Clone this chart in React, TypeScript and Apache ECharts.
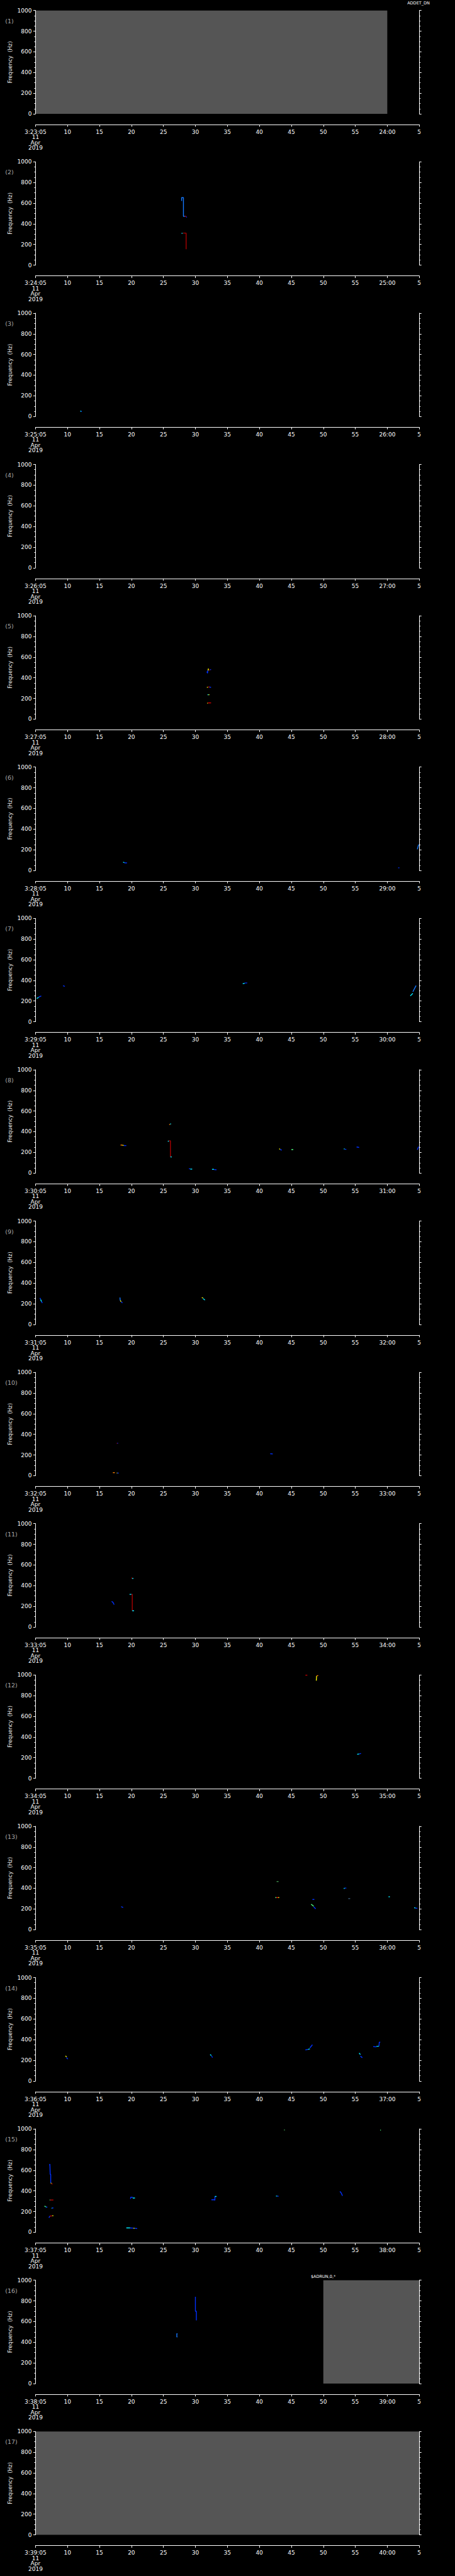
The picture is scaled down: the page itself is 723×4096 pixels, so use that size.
import React, { useEffect, useRef } from 'react';
import * as echarts from 'echarts';

// ---------- data ----------
const MINUTES = [23, 24, 25, 26, 27, 28, 29, 30, 31, 32, 33, 34, 35, 36, 37, 38, 39];
const DATE_LINES = ['11', 'Apr', '2019'];
const Y_MAX = 1000;
const X_MAX = 60;
// [panel, fromSecond, toSecond]
const GRAY_FILLS = [[1, 0, 55], [16, 45, 60], [17, 0, 60]];

const B = '#0030ff', LB = '#1478ff', C = '#00e8ff', G = '#50ff80', Y = '#f0f000',
  O = '#ff8000', R = '#d00000', DR = '#a80000', DG = '#3c8a4a', GB = '#406080';

// traces: [color, [[t, Hz], ...]]
const p1: any[] = [];
const p2 = [
  [LB, [[22.85, 622], [22.85, 653], [23.13, 653], [23.13, 472], [23.35, 472]]],
  [R, [[23.35, 472], [23.55, 472]]],
  [B, [[23.55, 470], [23.65, 462]]],
  [C, [[22.85, 306], [22.98, 310]]],
  [DR, [[23.05, 310], [23.55, 310], [23.55, 155]]],
];
const p3 = [[C, [[7.0, 52], [7.15, 50]]], [B, [[7.15, 50], [7.25, 48]]]];
const p4: any[] = [];
const p5 = [
  [B, [[26.8, 460], [26.9, 444], [26.95, 472]]],
  [Y, [[27.0, 470], [27.0, 485], [27.1, 485]]],
  [R, [[27.15, 475], [27.3, 475]]],
  [B, [[27.3, 478], [27.45, 480]]],
  [Y, [[26.8, 308], [26.95, 308]]],
  [R, [[27.0, 310], [27.2, 312]]],
  [B, [[27.2, 310], [27.45, 306]]],
  [C, [[26.9, 236], [27.05, 236]]],
  [Y, [[27.05, 236], [27.2, 236]]],
  [Y, [[26.85, 153], [26.95, 155]]],
  [R, [[26.95, 157], [27.45, 157]]],
];
const p6 = [
  [C, [[13.7, 80], [13.9, 75]]],
  [B, [[13.9, 73], [14.3, 73]]],
  [B, [[56.7, 25], [56.9, 25]]],
  [LB, [[59.7, 205], [59.9, 250]]],
];
const p7 = [
  [C, [[0.2, 225], [0.5, 235]]],
  [B, [[0.5, 238], [0.9, 250]]],
  [B, [[4.3, 348], [4.6, 342]]],
  [C, [[32.4, 368], [32.7, 372]]],
  [B, [[32.7, 374], [33.1, 376]]],
  [C, [[58.6, 250], [59.0, 275]]],
  [LB, [[59.0, 290], [59.5, 350]]],
];
const p8 = [
  [O, [[13.3, 271], [13.6, 271]]],
  [Y, [[13.6, 269], [13.8, 267]]],
  [B, [[13.8, 266], [14.2, 265]]],
  [O, [[20.9, 470], [21.05, 470]]],
  [C, [[21.05, 475], [21.2, 475]]],
  [C, [[20.7, 305], [20.85, 312]]],
  [DR, [[20.85, 312], [21.1, 312], [21.1, 156]]],
  [C, [[21.1, 156], [21.3, 156]]],
  [B, [[24.0, 42], [24.2, 40]]],
  [C, [[24.2, 38], [24.5, 38]]],
  [C, [[27.6, 36], [27.9, 36]]],
  [B, [[27.9, 34], [28.3, 32]]],
  [Y, [[38.1, 235], [38.25, 230]]],
  [B, [[38.25, 228], [38.5, 222]]],
  [G, [[40.0, 227], [40.3, 227]]],
  [C, [[48.2, 233], [48.35, 233]]],
  [B, [[48.35, 230], [48.6, 229]]],
  [B, [[50.2, 252], [50.6, 248]]],
  [B, [[59.7, 225], [59.9, 255]]],
];
const p9 = [
  [B, [[0.7, 256], [0.8, 240]]],
  [C, [[0.8, 240], [0.95, 220]]],
  [B, [[0.95, 220], [1.07, 207]]],
  [LB, [[13.2, 260], [13.25, 230]]],
  [Y, [[13.25, 230], [13.4, 220]]],
  [B, [[13.4, 218], [13.6, 207]]],
  [Y, [[26.0, 258], [26.2, 256]]],
  [C, [[26.2, 250], [26.5, 235]]],
];
const p10 = [
  [R, [[12.7, 312], [12.8, 312]]],
  [B, [[12.8, 314], [12.9, 314]]],
  [O, [[12.1, 29], [12.4, 29]]],
  [Y, [[12.7, 25], [12.8, 25]]],
  [B, [[12.8, 25], [13.0, 25]]],
  [B, [[36.7, 212], [37.1, 210]]],
];
const p11 = [
  [B, [[11.9, 247], [12.1, 240], [12.3, 216]]],
  [C, [[14.7, 316], [15.0, 316]]],
  [DR, [[15.0, 316], [15.13, 316], [15.13, 157]]],
  [C, [[15.13, 157], [15.4, 157]]],
  [R, [[15.0, 473], [15.13, 473]]],
  [C, [[15.13, 470], [15.3, 470]]],
];
const p12 = [
  [R, [[42.2, 998], [42.5, 998]]],
  [Y, [[43.9, 945], [43.95, 990]]],
  [O, [[43.95, 990], [44.2, 995]]],
  [C, [[50.3, 232], [50.6, 236]]],
  [B, [[50.6, 236], [50.9, 240]]],
];
const p13 = [
  [B, [[13.4, 222], [13.7, 214]]],
  [DG, [[37.7, 465], [38.0, 465]]],
  [G, [[37.5, 310], [37.65, 310]]],
  [R, [[37.65, 310], [37.95, 310]]],
  [Y, [[37.95, 310], [38.1, 310]]],
  [B, [[43.3, 292], [43.6, 292]]],
  [G, [[43.1, 246], [43.5, 225]]],
  [B, [[43.5, 220], [43.8, 201]]],
  [C, [[48.2, 398], [48.35, 400]]],
  [B, [[48.35, 402], [48.6, 402]]],
  [GB, [[48.9, 300], [49.2, 300]]],
  [C, [[55.2, 318], [55.4, 318]]],
  [C, [[59.2, 212], [59.4, 210]]],
  [B, [[59.4, 208], [59.7, 206]]],
];
const p14 = [
  [Y, [[4.7, 243], [4.85, 232]]],
  [B, [[4.85, 225], [5.06, 211]]],
  [C, [[27.3, 256], [27.5, 245]]],
  [B, [[27.5, 240], [27.7, 227]]],
  [B, [[42.2, 300], [42.6, 305]]],
  [C, [[42.6, 305], [42.9, 310]]],
  [B, [[42.9, 320], [43.3, 350]]],
  [C, [[50.6, 270], [50.8, 255]]],
  [B, [[50.8, 240], [51.1, 225]]],
  [B, [[52.8, 332], [53.3, 330]]],
  [C, [[53.3, 334], [53.7, 336]]],
  [B, [[53.7, 336], [53.75, 375], [53.9, 375]]],
];
const p15 = [
  [B, [[2.2, 648], [2.25, 660], [2.3, 660], [2.3, 560], [2.38, 560], [2.38, 475]]],
  [Y, [[2.38, 475], [2.5, 475]]],
  [R, [[2.5, 468], [2.65, 468]]],
  [G, [[2.2, 312], [2.3, 312]]],
  [R, [[2.3, 312], [2.8, 312]]],
  [G, [[1.4, 253], [1.6, 248]]],
  [C, [[1.6, 245], [1.7, 243]]],
  [B, [[1.7, 243], [1.85, 243]]],
  [C, [[2.5, 233], [2.6, 233]]],
  [B, [[2.6, 235], [2.8, 235]]],
  [B, [[2.1, 140], [2.25, 157]]],
  [R, [[2.25, 157], [2.55, 158]]],
  [Y, [[2.6, 160], [2.8, 160]]],
  [B, [[14.85, 322], [14.9, 339], [15.2, 339]]],
  [C, [[15.2, 331], [15.55, 331]]],
  [C, [[14.2, 42], [14.8, 42]]],
  [B, [[14.8, 42], [15.3, 40]]],
  [Y, [[15.3, 38], [15.5, 38]]],
  [B, [[15.5, 38], [15.9, 36]]],
  [B, [[27.5, 314], [27.95, 314], [28.05, 310], [28.05, 346]]],
  [C, [[28.05, 346], [28.3, 346]]],
  [DG, [[38.85, 990], [39.0, 990]]],
  [G, [[53.9, 988], [54.0, 988]]],
  [C, [[37.6, 350], [37.8, 350]]],
  [B, [[37.8, 350], [38.0, 348]]],
  [B, [[47.6, 395], [47.8, 380], [48.0, 352]]],
];
const p16 = [
  [B, [[25.0, 840], [25.0, 700], [25.15, 700], [25.15, 611]]],
  [LB, [[22.2, 482], [22.1, 482], [22.1, 451], [22.2, 451]]],
];
const p17: any[] = [];
const PANELS = [p1, p2, p3, p4, p5, p6, p7, p8, p9, p10, p11, p12, p13, p14, p15, p16, p17];

// ---------- layout (px in the 723-wide window) ----------
const W = 723;
const H = 4090;
const GRID_LEFT = 56.4;
const GRID_WIDTH = 609.8;
const GRID_TOP0 = 16.7;
const PANEL_STEP = 240.6;
const GRID_HEIGHT = 164.3;
const FONT = '"DejaVu Sans", "Liberation Sans", sans-serif';

function buildOption() {
  const grid: any[] = [];
  const xAxis: any[] = [];
  const yAxis: any[] = [];
  const series: any[] = [];
  const graphic: any[] = [];

  MINUTES.forEach((m, i) => {
    const top = GRID_TOP0 + i * PANEL_STEP;
    grid.push({ left: GRID_LEFT, width: GRID_WIDTH, top, height: GRID_HEIGHT, containLabel: false });
    xAxis.push({
      gridIndex: i, type: 'value', min: 0, max: X_MAX, interval: 5, position: 'bottom', offset: 17, z: 5,
      axisLine: { show: true, onZero: false, lineStyle: { color: '#ffffff', width: 1 } },
      axisTick: { show: true, length: 3.5, lineStyle: { color: '#ffffff', width: 1 } },
      splitLine: { show: false },
      axisLabel: {
        color: '#ffffff', fontSize: 9, fontFamily: FONT, margin: 7.5, lineHeight: 8.5,
        formatter: (v: number) => {
          if (v === 0) return `3:${m}:05\n` + DATE_LINES.join('\n');
          if (v === 55) return `${m + 1}:00`;
          if (v === 60) return '5';
          return String(v + 5);
        },
      },
    });
    const yBase = {
      gridIndex: i, type: 'value', min: 0, max: Y_MAX, interval: 200, z: 5,
      axisLine: { show: true, onZero: false, lineStyle: { color: '#ffffff', width: 1 } },
      axisTick: { show: true, length: 3.5, lineStyle: { color: '#ffffff', width: 1 } },
      minorTick: { show: true, splitNumber: 4, length: 2, lineStyle: { color: '#ffffff', width: 1 } },
      splitLine: { show: false },
      minorSplitLine: { show: false },
    };
    yAxis.push({
      ...yBase, position: 'left',
      axisLabel: { color: '#ffffff', fontSize: 9, fontFamily: FONT, margin: 6, formatter: (v: number) => String(v) },
    });
    yAxis.push({ ...yBase, position: 'right', axisLabel: { show: false } });

    PANELS[i].forEach((tr: any) => {
      series.push({
        type: 'line', xAxisIndex: i, yAxisIndex: 2 * i, data: tr[1], symbol: 'none', silent: true,
        lineStyle: { color: tr[0], width: 1.4 }, z: 3, clip: true,
      });
    });

    graphic.push({
      type: 'text', left: 8.3, top: top + 11.5, silent: true,
      style: { text: `(${i + 1})`, fill: '#a8a8a8', fontSize: 9.5, fontFamily: FONT },
    });
    graphic.push({
      type: 'text', x: 16.1, y: top + GRID_HEIGHT / 2, rotation: Math.PI / 2, silent: true,
      style: {
        text: 'Frequency  (Hz)', fill: '#f0f0f0', fontSize: 8.5, fontFamily: FONT,
        align: 'center', verticalAlign: 'middle',
      },
    });
  });

  GRAY_FILLS.forEach(([p, from, to]) => {
    const i = p - 1;
    series.push({
      type: 'line', xAxisIndex: i, yAxisIndex: 2 * i, data: [], symbol: 'none', silent: true, z: 1,
      markArea: {
        silent: true,
        itemStyle: { color: '#555555', opacity: 1 },
        data: [[{ xAxis: from, yAxis: 0 }, { xAxis: to, yAxis: Y_MAX }]],
      },
    });
  });

  graphic.push({
    type: 'text', x: 665, y: 4.5, silent: true,
    style: { text: 'ADDET_DN', fill: '#ffffff', fontSize: 6.5, fontFamily: FONT, align: 'center', verticalAlign: 'middle' },
  });
  graphic.push({
    type: 'text', x: 513.6, y: 3620.2, silent: true,
    style: { text: '$ADRUN,0,*', fill: '#ffffff', fontSize: 6.5, fontFamily: FONT, align: 'center', verticalAlign: 'middle' },
  });

  return {
    backgroundColor: '#000000',
    animation: false,
    grid, xAxis, yAxis, series, graphic,
  };
}

export default function App() {
  const ref = useRef<HTMLDivElement>(null);
  useEffect(() => {
    document.body.style.margin = '0';
    document.body.style.background = '#000000';
    const chart = echarts.init(ref.current!, undefined, { renderer: 'svg' });
    chart.setOption(buildOption() as any);
    return () => chart.dispose();
  }, []);
  return <div ref={ref} style={{ width: W, height: H, background: '#000' }} />;
}
